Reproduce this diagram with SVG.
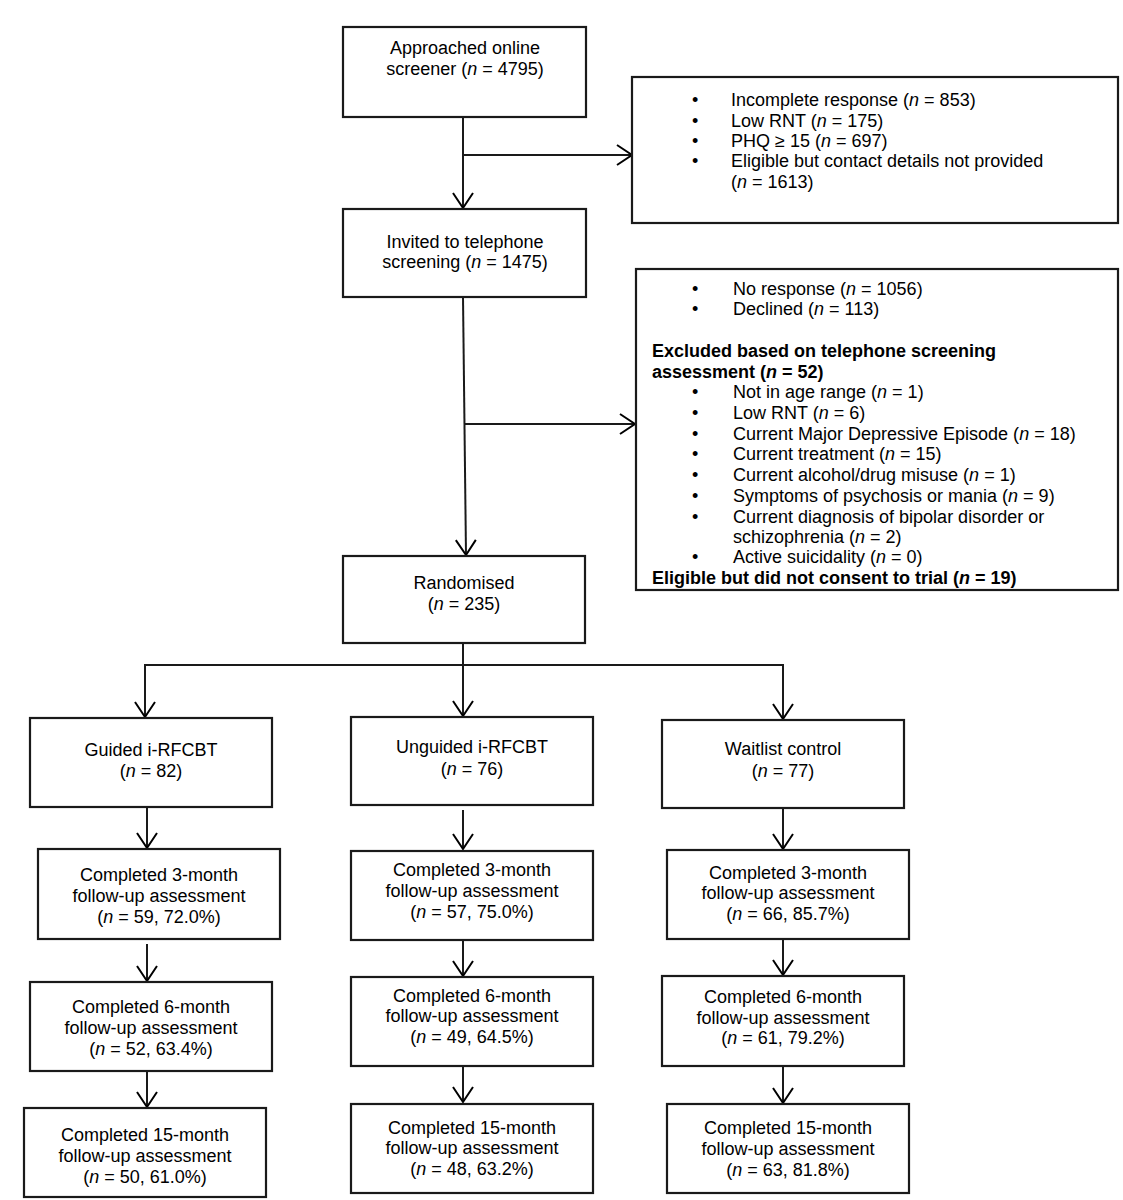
<svg xmlns="http://www.w3.org/2000/svg" width="1123" height="1200" viewBox="0 0 1123 1200">
<defs>
<marker id="arr" markerUnits="userSpaceOnUse" markerWidth="30" markerHeight="30" refX="16" refY="11" orient="auto">
<path d="M1,1 L16,11 L1,21" fill="none" stroke="#000" stroke-width="2"/>
</marker>
<style>
.box{fill:#fff;stroke:#1a1a1a;stroke-width:2.2}
.t{font-family:"Liberation Sans",Arial,sans-serif;font-size:18px;fill:#000}
.c{text-anchor:middle}
.b{font-weight:bold}
.i{font-style:italic}
.ln{fill:none;stroke:#1a1a1a;stroke-width:2}
</style>
</defs>
<rect width="1123" height="1200" fill="#fff"/>

<g id="connectors">
<line class="ln" x1="463" y1="117" x2="463" y2="208" marker-end="url(#arr)"/>
<line class="ln" x1="463" y1="155" x2="632" y2="155" marker-end="url(#arr)"/>
<line class="ln" x1="463" y1="297" x2="466" y2="555" marker-end="url(#arr)"/>
<line class="ln" x1="465" y1="424" x2="635" y2="424" marker-end="url(#arr)"/>
<line class="ln" x1="463" y1="643" x2="463" y2="716" marker-end="url(#arr)"/>
<polyline class="ln" points="145,718 145,665 783,665 783,719" marker-end="url(#arr)"/>
<line class="ln" x1="145" y1="665" x2="145" y2="717" marker-end="url(#arr)"/>
<line class="ln" x1="147" y1="807" x2="147" y2="848" marker-end="url(#arr)"/>
<line class="ln" x1="147" y1="944" x2="147" y2="981" marker-end="url(#arr)"/>
<line class="ln" x1="147" y1="1071" x2="147" y2="1107" marker-end="url(#arr)"/>
<line class="ln" x1="463" y1="810" x2="463" y2="849" marker-end="url(#arr)"/>
<line class="ln" x1="463" y1="940" x2="463" y2="976" marker-end="url(#arr)"/>
<line class="ln" x1="463" y1="1066" x2="463" y2="1102" marker-end="url(#arr)"/>
<line class="ln" x1="783" y1="808" x2="783" y2="849" marker-end="url(#arr)"/>
<line class="ln" x1="783" y1="939" x2="783" y2="975" marker-end="url(#arr)"/>
<line class="ln" x1="783" y1="1066" x2="783" y2="1103" marker-end="url(#arr)"/>
</g>

<g id="approached">
<rect class="box" x="343" y="27" width="243" height="90"/>
<text class="t c" x="465" y="54">Approached online</text>
<text class="t c" x="465" y="75">screener (<tspan class="i">n</tspan> = 4795)</text>
</g>

<g id="excluded1">
<rect class="box" x="632" y="77" width="486" height="146"/>
<text class="t" x="692" y="106">•</text><text class="t" x="731" y="106">Incomplete response (<tspan class="i">n</tspan> = 853)</text>
<text class="t" x="692" y="127">•</text><text class="t" x="731" y="127">Low RNT (<tspan class="i">n</tspan> = 175)</text>
<text class="t" x="692" y="147">•</text><text class="t" x="731" y="147">PHQ ≥ 15 (<tspan class="i">n</tspan> = 697)</text>
<text class="t" x="692" y="167">•</text><text class="t" x="731" y="167">Eligible but contact details not provided</text>
<text class="t" x="731" y="188">(<tspan class="i">n</tspan> = 1613)</text>
</g>

<g id="invited">
<rect class="box" x="343" y="209" width="243" height="88"/>
<text class="t c" x="465" y="248">Invited to telephone</text>
<text class="t c" x="465" y="268">screening (<tspan class="i">n</tspan> = 1475)</text>
</g>

<g id="excluded2">
<rect class="box" x="636" y="269" width="482" height="321"/>
<text class="t" x="692" y="295">•</text><text class="t" x="733" y="295">No response (<tspan class="i">n</tspan> = 1056)</text>
<text class="t" x="692" y="315">•</text><text class="t" x="733" y="315">Declined (<tspan class="i">n</tspan> = 113)</text>
<text class="t b" x="652" y="357">Excluded based on telephone screening</text>
<text class="t b" x="652" y="378">assessment (<tspan class="i">n</tspan> = 52)</text>
<text class="t" x="692" y="398">•</text><text class="t" x="733" y="398">Not in age range (<tspan class="i">n</tspan> = 1)</text>
<text class="t" x="692" y="419">•</text><text class="t" x="733" y="419">Low RNT (<tspan class="i">n</tspan> = 6)</text>
<text class="t" x="692" y="440">•</text><text class="t" x="733" y="440">Current Major Depressive Episode (<tspan class="i">n</tspan> = 18)</text>
<text class="t" x="692" y="460">•</text><text class="t" x="733" y="460">Current treatment (<tspan class="i">n</tspan> = 15)</text>
<text class="t" x="692" y="481">•</text><text class="t" x="733" y="481">Current alcohol/drug misuse (<tspan class="i">n</tspan> = 1)</text>
<text class="t" x="692" y="502">•</text><text class="t" x="733" y="502">Symptoms of psychosis or mania (<tspan class="i">n</tspan> = 9)</text>
<text class="t" x="692" y="523">•</text><text class="t" x="733" y="523">Current diagnosis of bipolar disorder or</text>
<text class="t" x="733" y="543">schizophrenia (<tspan class="i">n</tspan> = 2)</text>
<text class="t" x="692" y="563">•</text><text class="t" x="733" y="563">Active suicidality (<tspan class="i">n</tspan> = 0)</text>
<text class="t b" x="652" y="584">Eligible but did not consent to trial (<tspan class="i">n</tspan> = 19)</text>
</g>

<g id="randomised">
<rect class="box" x="343" y="556" width="242" height="87"/>
<text class="t c" x="464" y="589">Randomised</text>
<text class="t c" x="464" y="610">(<tspan class="i">n</tspan> = 235)</text>
</g>

<g id="guided">
<rect class="box" x="30" y="718" width="242" height="89"/>
<text class="t c" x="151" y="756">Guided i-RFCBT</text>
<text class="t c" x="151" y="777">(<tspan class="i">n</tspan> = 82)</text>
</g>
<g id="unguided">
<rect class="box" x="351" y="717" width="242" height="88"/>
<text class="t c" x="472" y="753">Unguided i-RFCBT</text>
<text class="t c" x="472" y="775">(<tspan class="i">n</tspan> = 76)</text>
</g>
<g id="waitlist">
<rect class="box" x="662" y="720" width="242" height="88"/>
<text class="t c" x="783" y="755">Waitlist control</text>
<text class="t c" x="783" y="777">(<tspan class="i">n</tspan> = 77)</text>
</g>

<g id="guided3">
<rect class="box" x="38" y="849" width="242" height="90"/>
<text class="t c" x="159" y="881">Completed 3-month</text>
<text class="t c" x="159" y="902">follow-up assessment</text>
<text class="t c" x="159" y="923">(<tspan class="i">n</tspan> = 59, 72.0%)</text>
</g>
<g id="guided6">
<rect class="box" x="30" y="982" width="242" height="89"/>
<text class="t c" x="151" y="1013">Completed 6-month</text>
<text class="t c" x="151" y="1034">follow-up assessment</text>
<text class="t c" x="151" y="1055">(<tspan class="i">n</tspan> = 52, 63.4%)</text>
</g>
<g id="guided15">
<rect class="box" x="24" y="1108" width="242" height="89"/>
<text class="t c" x="145" y="1141">Completed 15-month</text>
<text class="t c" x="145" y="1162">follow-up assessment</text>
<text class="t c" x="145" y="1183">(<tspan class="i">n</tspan> = 50, 61.0%)</text>
</g>

<g id="unguided3">
<rect class="box" x="351" y="851" width="242" height="89"/>
<text class="t c" x="472" y="876">Completed 3-month</text>
<text class="t c" x="472" y="897">follow-up assessment</text>
<text class="t c" x="472" y="918">(<tspan class="i">n</tspan> = 57, 75.0%)</text>
</g>
<g id="unguided6">
<rect class="box" x="351" y="977" width="242" height="89"/>
<text class="t c" x="472" y="1002">Completed 6-month</text>
<text class="t c" x="472" y="1022">follow-up assessment</text>
<text class="t c" x="472" y="1043">(<tspan class="i">n</tspan> = 49, 64.5%)</text>
</g>
<g id="unguided15">
<rect class="box" x="351" y="1104" width="242" height="89"/>
<text class="t c" x="472" y="1134">Completed 15-month</text>
<text class="t c" x="472" y="1154">follow-up assessment</text>
<text class="t c" x="472" y="1175">(<tspan class="i">n</tspan> = 48, 63.2%)</text>
</g>

<g id="waitlist3">
<rect class="box" x="667" y="850" width="242" height="89"/>
<text class="t c" x="788" y="879">Completed 3-month</text>
<text class="t c" x="788" y="899">follow-up assessment</text>
<text class="t c" x="788" y="920">(<tspan class="i">n</tspan> = 66, 85.7%)</text>
</g>
<g id="waitlist6">
<rect class="box" x="662" y="976" width="242" height="90"/>
<text class="t c" x="783" y="1003">Completed 6-month</text>
<text class="t c" x="783" y="1024">follow-up assessment</text>
<text class="t c" x="783" y="1044">(<tspan class="i">n</tspan> = 61, 79.2%)</text>
</g>
<g id="waitlist15">
<rect class="box" x="667" y="1104" width="242" height="89"/>
<text class="t c" x="788" y="1134">Completed 15-month</text>
<text class="t c" x="788" y="1155">follow-up assessment</text>
<text class="t c" x="788" y="1176">(<tspan class="i">n</tspan> = 63, 81.8%)</text>
</g>
</svg>
